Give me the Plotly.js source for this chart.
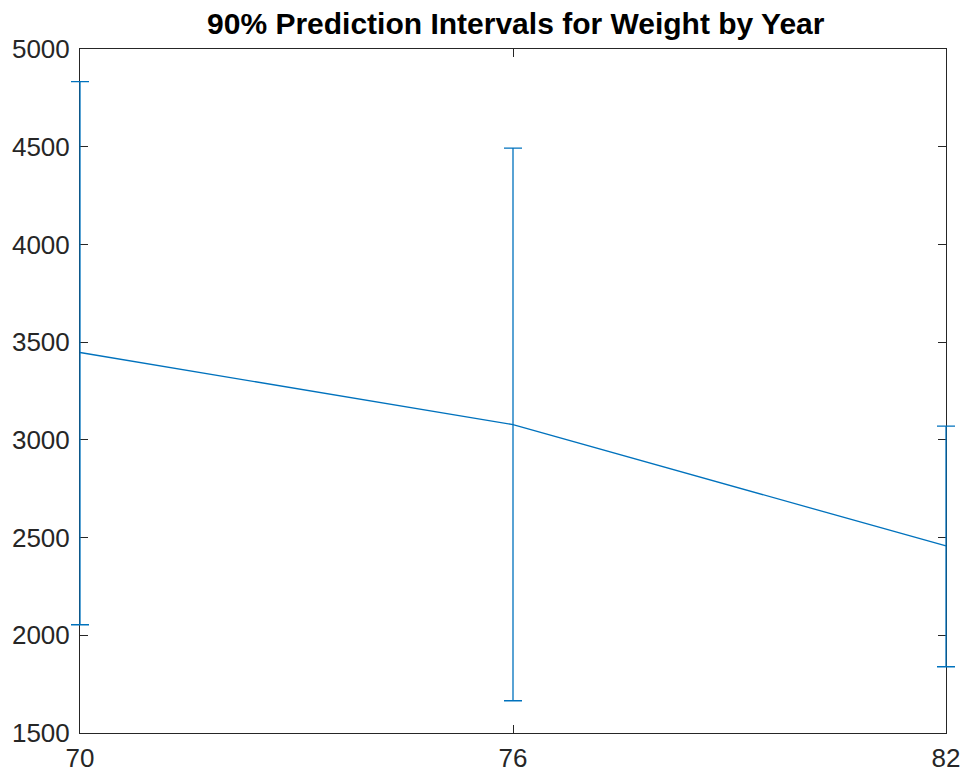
<!DOCTYPE html>
<html>
<head>
<meta charset="utf-8">
<script src="https://cdn.plot.ly/plotly-3.0.1.min.js"></script>
<style>html,body{margin:0;padding:0;background:#fff;}#chart{width:964px;height:774px;}</style>
</head>
<body>
<div id="chart"></div>
<script>
// Data
const years = [70, 76, 82];
const predicted = [3447, 3078, 2457];
const upperBound = [4833, 4493, 3070];
const lowerBound = [2054, 1665, 1839];
const xTickVals = [70, 76, 82];
const yTickVals = [1500, 2000, 2500, 3000, 3500, 4000, 4500, 5000];

const errPlus = upperBound.map((u, i) => u - predicted[i]);
const errMinus = lowerBound.map((l, i) => predicted[i] - l);

const blue = '#0072BD';
const axisCol = '#262626';
const fontFam = 'Liberation Sans, Arial, Helvetica, sans-serif';

// Geometry: the visible axes box, plus an invisible, slightly wider
// overlay subplot so that error-bar caps at the box edges are not clipped.
const W = 964, H = 774;
const ml = 68, mr = 6, mt = 49, mb = 41;
const padPx = 12;
const plotW = W - ml - mr;
const xMin = 70, xMax = 82;
const innerW = plotW - 2 * padPx;
const pxPerUnit = innerW / (xMax - xMin);
const padUnits = padPx / pxPerUnit;
const domA = padPx / plotW;

const trace = {
  x: years,
  y: predicted,
  xaxis: 'x2',
  yaxis: 'y2',
  type: 'scatter',
  mode: 'lines',
  line: {color: blue, width: 1.3},
  error_y: {
    type: 'data',
    symmetric: false,
    array: errPlus,
    arrayminus: errMinus,
    color: blue,
    thickness: 1.3,
    width: 9
  },
  hoverinfo: 'skip'
};

// dummy trace so the visible axes get drawn
const dummy = {
  x: [xMin], y: [1500], xaxis: 'x', yaxis: 'y',
  type: 'scatter', mode: 'markers', marker: {opacity: 0}, hoverinfo: 'skip'
};

const axisCommon = {
  showline: true,
  linecolor: axisCol,
  linewidth: 1,
  mirror: 'ticks',
  ticks: 'inside',
  ticklen: 8,
  tickwidth: 1,
  tickcolor: axisCol,
  showgrid: false,
  zeroline: false,
  tickfont: {family: fontFam, size: 26, color: axisCol}
};

const layout = {
  width: W,
  height: H,
  margin: {l: ml, r: mr, t: mt, b: mb},
  paper_bgcolor: '#ffffff',
  plot_bgcolor: 'rgba(0,0,0,0)',
  showlegend: false,
  title: {
    text: '<b>90% Prediction Intervals for Weight by Year</b>',
    font: {family: fontFam, size: 30, color: '#000000'},
    x: 0.535,
    xref: 'container',
    xanchor: 'center',
    y: 1 - 23 / H,
    yref: 'container',
    yanchor: 'middle'
  },
  xaxis: Object.assign({}, axisCommon, {
    domain: [domA, 1 - domA],
    range: [xMin, xMax],
    tickvals: xTickVals,
    ticktext: xTickVals.map(String),
    ticklabelstandoff: 2,
    anchor: 'y'
  }),
  yaxis: Object.assign({}, axisCommon, {
    domain: [0, 1],
    range: [1500, 5000],
    tickvals: yTickVals,
    ticktext: yTickVals.map(String),
    ticklabelstandoff: 4,
    anchor: 'x'
  }),
  xaxis2: {
    domain: [0, 1],
    range: [xMin - padUnits, xMax + padUnits],
    visible: false,
    showgrid: false,
    zeroline: false,
    anchor: 'y2'
  },
  yaxis2: {
    domain: [0, 1],
    range: [1500, 5000],
    visible: false,
    showgrid: false,
    zeroline: false,
    anchor: 'x2'
  }
};

Plotly.newPlot('chart', [dummy, trace], layout, {displayModeBar: false, staticPlot: true});
</script>
</body>
</html>
